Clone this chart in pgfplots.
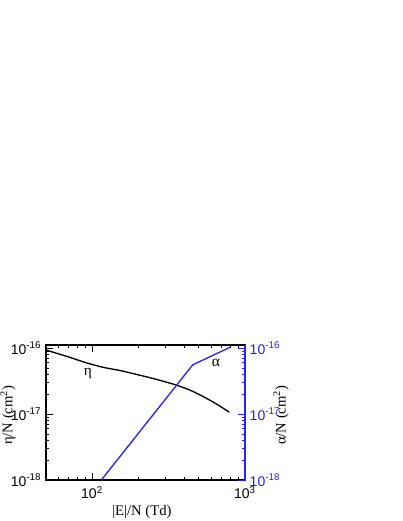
\documentclass[border=0pt]{standalone}
\usepackage{pgfplots}
\pgfplotsset{compat=1.18}
\usepackage{fontspec}
\setmainfont{Liberation Serif}
\setsansfont{Liberation Sans}
\definecolor{myblue}{RGB}{35,35,250}
\begin{document}
\begin{tikzpicture}
\useasboundingbox (-34.5pt,-30.75pt) rectangle (267.75pt,360pt);
\begin{axis}[
  scale only axis, width=149.25pt, height=101.25pt,
  xmode=log, ymode=log, xmin=50, xmax=1000, ymin=1e-18, ymax=1.12e-16,
  tick align=inside,
  major tick length=5pt, minor tick length=2.5pt,
  ytick={1e-18,1e-17,1e-16},
  yticklabels={\sffamily 10\textsuperscript{-18},\sffamily 10\textsuperscript{-17},\sffamily 10\textsuperscript{-16}},
  minor ytick={2e-18,3e-18,4e-18,5e-18,6e-18,7e-18,8e-18,9e-18,2e-17,3e-17,4e-17,5e-17,6e-17,7e-17,8e-17,9e-17},
  xtick={100,1000},
  xticklabels={\sffamily 10\textsuperscript{2},\sffamily 10\textsuperscript{3}},
  minor xtick={60,70,80,90,200,300,400,500,600,700,800,900},
  xtick pos=both, ytick pos=left,
  axis line style={line width=1.2pt},
  tick style={black, line width=0.7pt},
  tick label style={font=\fontsize{10.5}{12}\selectfont},
  xticklabel style={yshift=-1.5pt},
  xlabel={|E|/N (Td)},
  ylabel={η/N (cm\textsuperscript{2})},
  xlabel style={font=\fontsize{11}{13}\selectfont, at={(axis description cs:0.482,-0.237)}, anchor=center},
  ylabel style={font=\fontsize{11}{13}\selectfont, at={(axis description cs:-0.191,0.48)}, anchor=center},
]
\addplot[black, line width=1pt, smooth] coordinates {
(50,9.4e-17) (70,7.4e-17) (92,6.0e-17) (120,5.1e-17) (152,4.6e-17) (196,4.0e-17) (260,3.4e-17) (357,2.75e-17) (459,2.2e-17) (621,1.52e-17) (790,1.07e-17)
};
\node[font=\fontsize{11.5}{13}\selectfont] at (axis cs:94,4.2e-17) {η};
\end{axis}
\begin{axis}[
  scale only axis, width=149.25pt, height=101.25pt,
  xmode=log, ymode=log, xmin=50, xmax=1000, ymin=1e-18, ymax=1.12e-16,
  axis x line=none, axis y line*=right,
  tick align=inside,
  major tick length=5pt, minor tick length=2.5pt,
  ytick={1e-18,1e-17,1e-16},
  yticklabels={\sffamily 10\textsuperscript{-18},\sffamily 10\textsuperscript{-17},\sffamily 10\textsuperscript{-16}},
  minor ytick={2e-18,3e-18,4e-18,5e-18,6e-18,7e-18,8e-18,9e-18,2e-17,3e-17,4e-17,5e-17,6e-17,7e-17,8e-17,9e-17},
  y axis line style={myblue, line width=1.2pt},
  ytick style={myblue, line width=0.7pt},
  yticklabel style={myblue, font=\fontsize{10.5}{12}\selectfont},
  ylabel={α/N (cm\textsuperscript{2})},
  ylabel style={font=\fontsize{11}{13}\selectfont, at={(axis description cs:1.181,0.48)}, anchor=center},
]
\addplot[myblue, line width=1pt] coordinates {
(115,1e-18) (455,5.6e-17) (795,1.03e-16)
};
\node[font=\fontsize{11.5}{13}\selectfont] at (axis cs:645,5.95e-17) {α};
\end{axis}
\end{tikzpicture}
\end{document}
